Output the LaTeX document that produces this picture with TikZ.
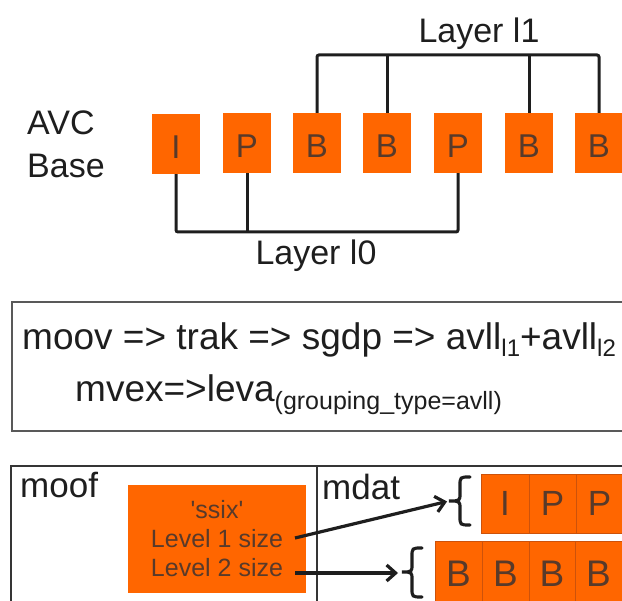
\documentclass[tikz,border=0pt]{standalone}
\usepackage{fontspec}
\setmainfont{Liberation Sans}
\usetikzlibrary{arrows.meta}
\definecolor{boxorange}{RGB}{255,102,0}
\definecolor{celltext}{RGB}{88,58,42}
\definecolor{ink}{RGB}{30,30,30}
\definecolor{celledge}{RGB}{205,82,10}
\newcommand{\lowsub}[3]{\raisebox{-#1pt}{\fontsize{#2}{#2}\selectfont #3}}
\begin{document}
\begin{tikzpicture}[x=1pt,y=-1pt,
  frame/.style={fill=boxorange, draw=none, inner sep=0pt, minimum width=48pt,
    minimum height=60pt, text=celltext, font=\fontsize{33}{33}\selectfont, text height=30pt},
  cell/.style={fill=boxorange, draw=celledge, line width=0.8pt, inner sep=0pt,
    text=celltext, font=\fontsize{35}{35}\selectfont},
  conn/.style={draw=ink, line width=3pt, rounded corners=2pt},
  big/.style={font=\fontsize{34}{40}\selectfont, text=ink, inner sep=0pt},
  mid/.style={font=\fontsize{37}{40}\selectfont, text=ink, inner sep=0pt},
  lbl/.style={font=\fontsize{35}{40}\selectfont, text=ink, inner sep=0pt},
  ssixtext/.style={font=\fontsize{25}{28}\selectfont, text=celltext, inner sep=0pt},
  arr/.style={draw=ink, line width=3.2pt, -{Straight Barb[length=9pt,width=16pt]}},
  bracepen/.style={draw=ink, line width=3.2pt, line cap=round}
]
\useasboundingbox (0,0) rectangle (622,601);
\clip (0,0) rectangle (622,601);

% ---------- top: AVC base ----------
\node[big, anchor=base west] (avc) at (27,135) {AVC};
\node[big, anchor=base west] (base) at (27,178) {Base};

\node[frame] (f1) at (176,144) {I};
\node[frame] (f2) at (247,143) {P};
\node[frame] (f3) at (317,143) {B};
\node[frame] (f4) at (387,143) {B};
\node[frame] (f5) at (458,143) {P};
\node[frame] (f6) at (529,143) {B};
\node[frame] (f7) at (599,143) {B};

\coordinate (barone) at (0,55);
\coordinate (barzero) at (0,232);

\draw[conn] (f3.north) -- (f3.north |- barone) -- (f7.north |- barone) -- (f7.north);
\draw[conn] (f4.north) -- (f4.north |- barone);
\draw[conn] (f6.north) -- (f6.north |- barone);

\draw[conn] (f1.south) -- (f1.south |- barzero) -- (f5.south |- barzero) -- (f5.south);
\draw[conn] (f2.south) -- (f2.south |- barzero);

\node[big, anchor=base] (lone) at (479,43) {Layer l1};
\node[big, anchor=base] (lzero) at (316,265) {Layer l0};

% ---------- middle box ----------
\draw[draw=black!65, line width=2pt] (12,302) rectangle (660,431);
\node[mid, anchor=base west] (line1) at (22,350)
  {moov => trak => sgdp => avll\lowsub{7}{24}{l1}+avll\lowsub{7}{24}{l2}};
\node[mid, anchor=base west] (line2) at (75,402)
  {mvex=>leva\lowsub{8}{25}{(grouping\_type=avll)}};

% ---------- bottom ----------
\draw[draw=ink!90, line width=1.5pt] (11,640) -- (11,466) -- (660,466);
\draw[draw=ink!90, line width=1.5pt] (317,466) -- (317,640);
\node[lbl, anchor=base west] (moof) at (20,498) {moof};
\node[lbl, anchor=base west] (mdat) at (322,500) {mdat};

\node[fill=boxorange, inner sep=0pt, minimum width=178pt, minimum height=108pt] (ssix) at (217,539) {};
\node[ssixtext, anchor=base] (t0) at (217,519) {\textquotesingle ssix\textquotesingle};
\node[ssixtext, anchor=base] (t1) at (217,548) {Level 1 size};
\node[ssixtext, anchor=base] (t2) at (217,577) {Level 2 size};

% top row cells
\node[cell, minimum width=48pt, minimum height=59pt] (c1) at (505,503.5) {I};
\node[cell, minimum width=47pt, minimum height=59pt] (c2) at (552.5,503.5) {P};
\node[cell, minimum width=47pt, minimum height=59pt] (c3) at (599.5,503.5) {P};
% bottom row cells
\node[cell, font=\fontsize{37}{37}\selectfont, minimum width=47pt, minimum height=65pt] (d1) at (458.5,573.5) {B};
\node[cell, font=\fontsize{37}{37}\selectfont, minimum width=47pt, minimum height=65pt] (d2) at (505.5,573.5) {B};
\node[cell, font=\fontsize{37}{37}\selectfont, minimum width=46pt, minimum height=65pt] (d3) at (552,573.5) {B};
\node[cell, font=\fontsize{37}{37}\selectfont, minimum width=47pt, minimum height=65pt] (d4) at (598.5,573.5) {B};

% braces
\coordinate (b1tip) at (449,501);
\coordinate (b2tip) at (402,572);
\draw[bracepen] (470,477) .. controls (460,477) .. (460,486) -- (460,493)
  .. controls (460,501) .. (b1tip) .. controls (460,501) .. (460,509)
  -- (460,516) .. controls (460,525) .. (470,525);
\draw[bracepen] (422,548) .. controls (412,548) .. (412,557) -- (412,564)
  .. controls (412,572) .. (b2tip) .. controls (412,572) .. (412,580)
  -- (412,588) .. controls (412,597) .. (422,597);

% arrows
\coordinate (s1) at (295,538);
\coordinate (s2) at (295,573);
\draw[arr, shorten >=2pt] (s1) -- (b1tip);
\draw[arr, shorten >=4pt] (s2) -- (s2 -| b2tip);
\end{tikzpicture}
\end{document}
